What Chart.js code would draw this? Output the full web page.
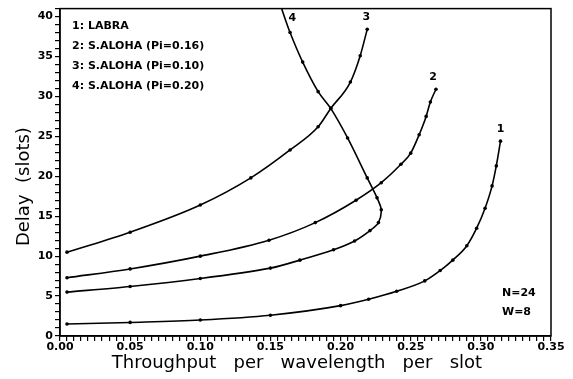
<!DOCTYPE html>
<html><head><meta charset="utf-8">
<script src="https://cdn.jsdelivr.net/npm/chart.js@4"></script>
<style>html,body{margin:0;padding:0;background:#fff}#wrap{width:573px;height:379px;position:relative}</style>
</head><body><div id="wrap"><canvas id="c" width="573" height="379"></canvas></div>
<script>
// ---- data ----
const seriesNames = ['1: LABRA', '2: S.ALOHA (Pi=0.16)', '3: S.ALOHA (Pi=0.10)', '4: S.ALOHA (Pi=0.20)'];
const curveLabels = ['1', '2', '3', '4'];
const noteLines = ['N=24', 'W=8'];

const labraX = [0.005, 0.05, 0.10, 0.15, 0.20, 0.22, 0.24, 0.26, 0.271, 0.28, 0.29, 0.297, 0.303, 0.308, 0.311, 0.314];
const labraY = [1.5, 1.7, 2.0, 2.6, 3.8, 4.6, 5.6, 6.9, 8.2, 9.5, 11.3, 13.5, 16.0, 18.8, 21.3, 24.4];

const aloha16X = [0.005, 0.05, 0.10, 0.149, 0.182, 0.211, 0.229, 0.243, 0.25, 0.256, 0.261, 0.264, 0.268];
const aloha16Y = [7.3, 8.4, 10.0, 12.0, 14.2, 17.0, 19.2, 21.5, 22.9, 25.2, 27.5, 29.3, 30.9];

const aloha10X = [0.005, 0.05, 0.10, 0.136, 0.164, 0.184, 0.193, 0.207, 0.214, 0.219];
const aloha10Y = [10.5, 13.0, 16.4, 19.8, 23.3, 26.2, 28.5, 31.8, 35.1, 38.4];

const aloha20X = [0.005, 0.05, 0.10, 0.15, 0.171, 0.195, 0.21, 0.221, 0.227, 0.229, 0.226, 0.219, 0.205, 0.193, 0.184, 0.173, 0.164, 0.157];
const aloha20Y = [5.5, 6.2, 7.2, 8.5, 9.5, 10.8, 11.9, 13.2, 14.2, 15.8, 17.3, 19.8, 24.8, 28.5, 30.6, 34.3, 38.0, 41.5];

const xTickLabels = ['0.00', '0.05', '0.10', '0.15', '0.20', '0.25', '0.30', '0.35'];
const yTickLabels = ['0', '5', '10', '15', '20', '25', '30', '35', '40'];

const xTitle = 'Throughput   per   wavelength   per   slot';
const yTitle = 'Delay  (slots)';

// ---- build ----
const pairs = (xs, ys) => xs.map((v, i) => ({x: v, y: ys[i]}));
const allSeries = [pairs(labraX, labraY), pairs(aloha16X, aloha16Y), pairs(aloha10X, aloha10Y), pairs(aloha20X, aloha20Y)];
const labelOffsets = [[0, -12], [-3, -12], [-1, -12], [12, 10]];
const annFont = 'bold 11px "DejaVu Sans"';

const annot = {
  id: 'annot',
  afterDraw(chart) {
    const {ctx, chartArea: a, scales: {x, y}} = chart;
    ctx.save();
    ctx.strokeStyle = '#000';
    ctx.lineWidth = 1.5;
    ctx.strokeRect(a.left, a.top, a.right - a.left, a.bottom - a.top);
    ctx.fillStyle = '#000';
    ctx.font = annFont;
    ctx.textBaseline = 'middle';
    ctx.textAlign = 'left';
    seriesNames.forEach((t, i) => ctx.fillText(t, a.left + 12, a.top + 18 + i * 20));
    noteLines.forEach((t, i) => ctx.fillText(t, a.right - 49, a.bottom - 43 + i * 19));
    ctx.textAlign = 'center';
    allSeries.forEach((s, i) => {
      const p = s[s.length - 1];
      const px = x.getPixelForValue(p.x) + labelOffsets[i][0];
      const py = Math.max(a.top, y.getPixelForValue(p.y)) + labelOffsets[i][1];
      ctx.fillText(curveLabels[i], px, py);
    });
    ctx.restore();
  }
};

const tickFont = {family: '"DejaVu Sans"', size: 11, weight: 'bold'};
const titleFont = {family: '"DejaVu Sans"', size: 18, lineHeight: 1.2};

new Chart(document.getElementById('c'), {
  type: 'line',
  data: {
    datasets: allSeries.map((s, i) => ({
      label: seriesNames[i],
      data: s,
      borderColor: '#000',
      backgroundColor: '#000',
      borderWidth: 1.6,
      pointRadius: 1.8,
      pointBorderWidth: 0,
      tension: 0.3,
      cubicInterpolationMode: i < 3 ? 'monotone' : 'default',
      fill: false
    }))
  },
  options: {
    responsive: false,
    animation: false,
    events: [],
    layout: {padding: {left: 0, right: 22, top: 5, bottom: 0}},
    plugins: {legend: {display: false}, tooltip: {enabled: false}},
    scales: {
      x: {
        type: 'linear', min: 0, max: 0.35,
        afterFit(s) { s.height = 43; },
        border: {display: true, color: '#000', width: 1.5},
        grid: {drawOnChartArea: false, drawTicks: true, tickLength: 5, color: '#000', lineWidth: 1.2},
        ticks: {
          stepSize: 0.005, autoSkip: false, maxRotation: 0, color: '#000', font: tickFont, padding: 0,
          callback: (v, i) => (i % 10 === 0 ? xTickLabels[i / 10] : '')
        },
        title: {display: true, text: xTitle + '   ', color: '#000', font: titleFont, padding: {top: 0, bottom: 5}}
      },
      y: {
        type: 'linear', min: 0, max: 41,
        afterFit(s) { s.width = 60; },
        border: {display: true, color: '#000', width: 1.5},
        grid: {drawOnChartArea: false, drawTicks: true, tickLength: 5, color: '#000', lineWidth: 1.2},
        ticks: {
          stepSize: 1, autoSkip: false, color: '#000', font: tickFont, padding: 2,
          callback: (v, i) => (i % 5 === 0 && yTickLabels[i / 5] !== undefined ? yTickLabels[i / 5] : '')
        },
        title: {display: true, text: yTitle + '     ', color: '#000', font: titleFont, padding: {top: 14, bottom: 0}}
      }
    }
  },
  plugins: [annot]
});
</script>
</body></html>
